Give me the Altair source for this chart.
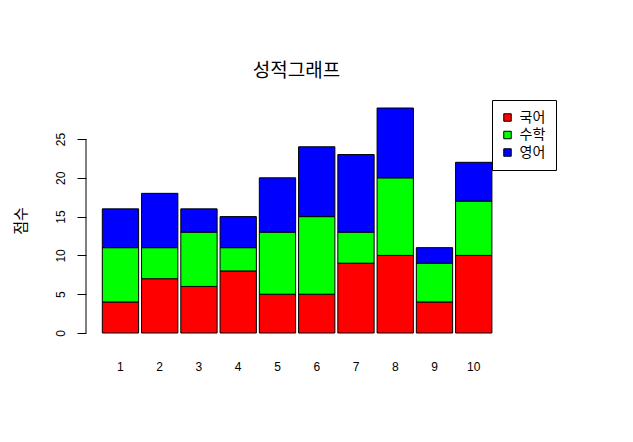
import altair as alt
import pandas as pd

students = [1, 2, 3, 4, 5, 6, 7, 8, 9, 10]
subjects = ["국어", "수학", "영어"]
korean = [4, 7, 6, 8, 5, 5, 9, 10, 4, 10]
math = [7, 4, 7, 3, 8, 10, 4, 10, 5, 7]
english = [5, 7, 3, 4, 7, 9, 10, 9, 2, 5]
colors = ["#FF0000", "#00FF00", "#0000FF"]
y_ticks = [0, 5, 10, 15, 20, 25]

rows = []
for k, series in enumerate([korean, math, english]):
    for s, v in zip(students, series):
        rows.append({"학생": s, "과목": subjects[k], "순서": k, "점수": v})
df = pd.DataFrame(rows)

totals = [a + b + c for a, b, c in zip(korean, math, english)]
ymax = max(totals)
ydom = [-0.04 * ymax, ymax * 1.04]

yscale = alt.Scale(domain=ydom, nice=False, zero=False)

bars = alt.Chart(df).mark_bar(stroke="black", strokeWidth=1, opacity=1).encode(
    x=alt.X("학생:O", sort=students,
            scale=alt.Scale(range=[16.3, 405.9], paddingInner=0.075, paddingOuter=0),
            axis=alt.Axis(title=None, domain=False, ticks=False, grid=False, labelAngle=0,
                          labelPadding=19, labelFont="Liberation Sans", labelFontSize=12,
                          labelColor="black")),
    y=alt.Y("sum(점수):Q", stack="zero", scale=yscale,
            axis=alt.Axis(values=y_ticks, domain=False, grid=False, ticks=True, tickSize=9,
                          tickColor="black", tickWidth=1, labelAngle=270, labelAlign="center",
                          labelBaseline="bottom", labelPadding=10, labelFont="Liberation Sans",
                          labelFontSize=12, labelColor="black",
                          title="점수", titleFont="Noto Sans CJK KR", titleFontSize=15,
                          titleFontWeight="normal", titleAngle=270, titleX=-66, titleY=121.5,
                          titleAlign="center", titleBaseline="middle", titleColor="black")),
    fill=alt.Fill("과목:N", scale=alt.Scale(domain=subjects, range=colors),
                  legend=alt.Legend(orient="none", legendX=406, legendY=1, title=None,
                                    symbolType="square", symbolSize=56,
                                    symbolStrokeColor="black", symbolStrokeWidth=1,
                                    symbolOffset=-2,
                                    labelFont="Noto Sans CJK KR", labelFontSize=14,
                                    labelColor="black", padding=10.5, strokeColor="black",
                                    fillColor="white", rowPadding=3.5, labelOffset=5,
                                    cornerRadius=0)),
    order=alt.Order("순서:Q", sort="ascending"),
)

axis_df = pd.DataFrame({"lo": [min(y_ticks)], "hi": [max(y_ticks)]})
axis_line = alt.Chart(axis_df).mark_rule(color="black", strokeWidth=1).encode(
    x=alt.value(0),
    y=alt.Y("lo:Q", scale=yscale),
    y2="hi:Q",
)

chart = alt.layer(bars, axis_line).properties(
    width=421,
    height=243,
    background="white",
    title=alt.TitleParams("성적그래프", font="Noto Sans CJK KR", fontSize=19,
                          fontWeight="normal", color="black", anchor="middle",
                          frame="group", offset=18),
    autosize=alt.AutoSizeParams(type="none"),
    padding={"left": 78, "top": 91, "right": 100, "bottom": 90},
).configure_view(strokeWidth=0, stroke="transparent")

chart.save("out.html", embed_options={"renderer": "svg", "actions": False})
